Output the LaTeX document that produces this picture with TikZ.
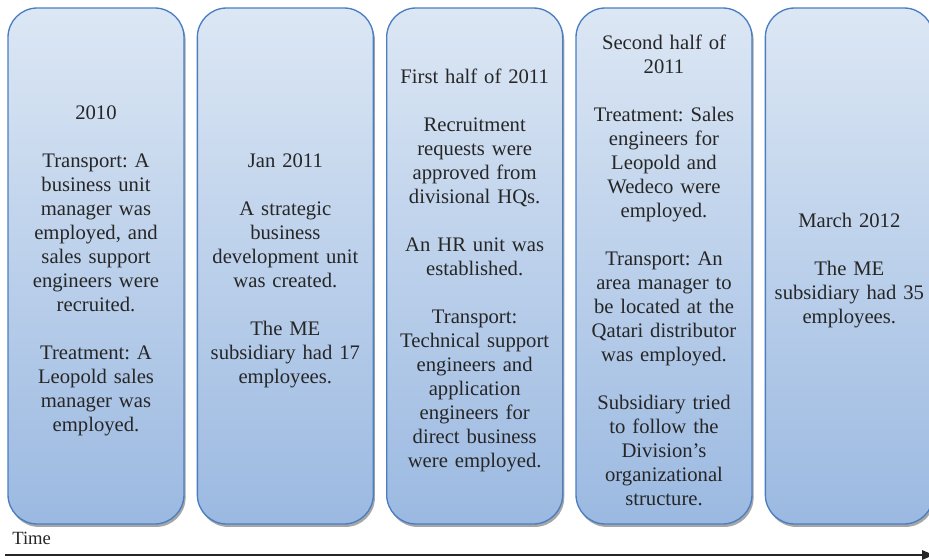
\documentclass[tikz,border=0pt]{standalone}
\usepackage{fontspec}
\setmainfont{Liberation Serif}
\frenchspacing
\usetikzlibrary{positioning,shadows,arrows.meta}
\definecolor{boxtop}{RGB}{220,231,244}
\definecolor{boxbot}{RGB}{155,185,225}
\definecolor{boxline}{RGB}{74,126,193}
\definecolor{inktext}{RGB}{38,38,38}
\tikzset{
	period/.style={draw=boxline, line width=1pt, rounded corners=22pt,
		top color=boxtop, bottom color=boxbot,
		minimum width=132pt, minimum height=387pt, text width=124pt,
		align=center, inner sep=0pt, text=inktext,
		font=\fontsize{15.5}{18}\selectfont,
		execute at begin node={\rule{0pt}{17pt}},
		drop shadow={shadow xshift=1.2pt, shadow yshift=-2.2pt, fill=black!35, opacity=1}},
	gap/.style={right=9pt of #1},
}

\begin{document}
\begin{tikzpicture}[x=0.75pt,y=-0.75pt]
	\useasboundingbox (0,0) rectangle (929,560);
	\node[period] (y2010) at (96,266) {2010\\[18pt]
		Transport: A\\business unit\\manager was\\employed, and\\sales support\\engineers were\\recruited.\\[18pt]
		Treatment: A\\Leopold sales\\manager was\\employed.};
	\node[period, gap=y2010] (jan11) {Jan 2011\\[18pt]
		A strategic\\business\\development unit\\was created.\\[18pt]
		The ME\\subsidiary had 17\\employees.};
	\node[period, gap=jan11] (half1) {First half of 2011\\[18pt]
		Recruitment\\requests were\\approved from\\divisional HQs.\\[18pt]
		An HR unit was\\established.\\[18pt]
		Transport:\\Technical support\\engineers and\\application\\engineers for\\direct business\\were employed.};
	\node[period, gap=half1] (half2) {Second half of\\2011\\[18pt]
		Treatment: Sales\\engineers for\\Leopold and\\Wedeco were\\employed.\\[18pt]
		Transport: An\\area manager to\\be located at the\\Qatari distributor\\was employed.\\[18pt]
		Subsidiary tried\\to follow the\\Division’s\\organizational\\structure.};
	\node[period, gap=half2, minimum width=126pt, text width=118pt] (mar12) {March 2012\\[18pt]
		The ME\\subsidiary had 35\\employees.};
	% time axis
	\coordinate (tstart) at (5,555);
	\coordinate (tend) at (934,555);
	\draw[line width=1.5pt, black!85, -{Triangle[length=9pt,width=7pt]}] (tstart) -- (tend);
	\node[anchor=west, inner sep=0pt, text=inktext, font=\fontsize{14}{16}\selectfont] (time) at (12,538) {Time};
\end{tikzpicture}
\end{document}
